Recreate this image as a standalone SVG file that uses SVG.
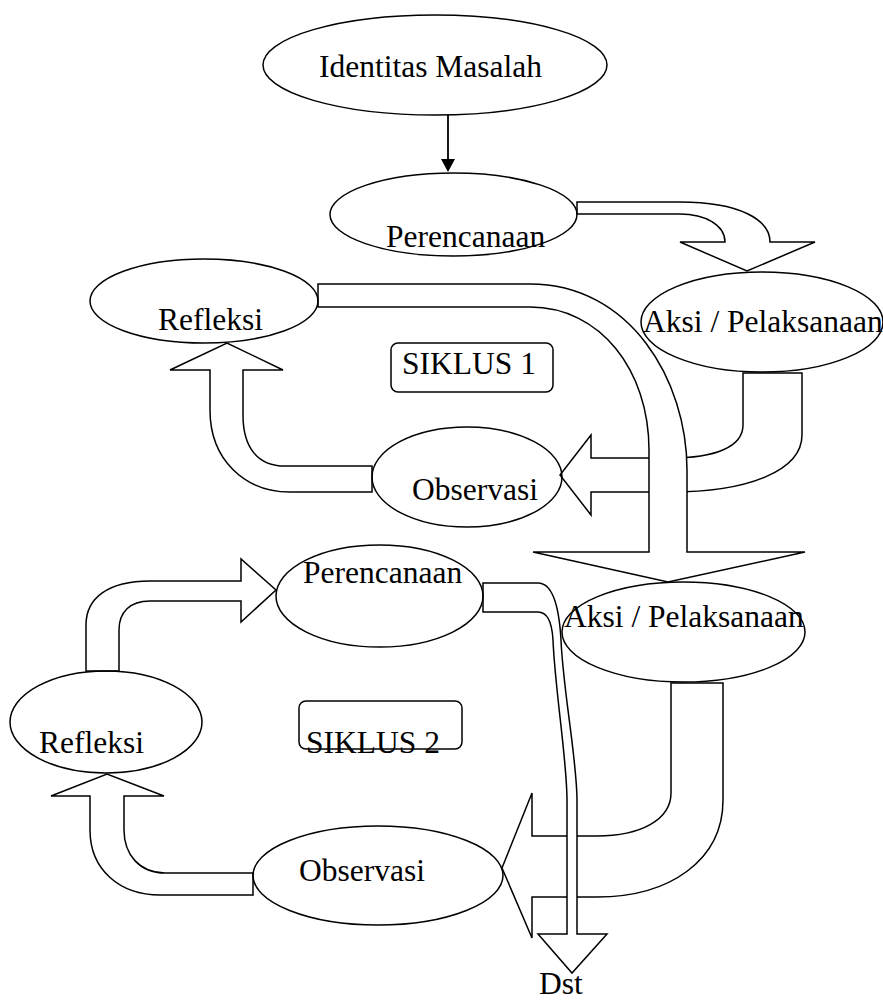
<svg xmlns="http://www.w3.org/2000/svg" width="883" height="1002" viewBox="0 0 883 1002">
<style>
.c{fill:#fff;stroke:#000;stroke-width:1.5;stroke-linejoin:miter}
.n{fill:none;stroke:#000;stroke-width:1.5}
.t{font-family:"Liberation Serif","Times New Roman",serif;font-size:31.5px;fill:#000}
.b{fill:none;stroke:#000;stroke-width:1.5}
</style>
<rect width="883" height="1002" fill="#fff"/>
<g id="connectors">
<line x1="448" y1="115" x2="448" y2="160" stroke="#000" stroke-width="1.8"/>
<polygon points="441,159 455,159 448,172" fill="#000"/>
<path class="c" d="M577,202 L680,202 C740,202 770,220 770,242 L815,242 L747,271 L680,242 L725,242 C725,225 705,214 680,214 L577,214 Z"/>
<path class="c" d="M743,373 L743,425 C743,447 715,458 670,458 L591,458 L591,435 L560,475 L591,515 L591,492 L670,492 C750,492 802,470 802,435 L802,373 Z"/>
<path class="c" d="M318,284 L530,284 C630,284 687,380 687,470 L687,552 L805,552 L668,582 L533,552 L649,552 L649,450 C649,370 600,307 530,307 L318,307 Z"/>
<path class="c" d="M372,466 L285,466 C258,466 243,448 243,415 L243,370 L283,370 L227,343 L170,370 L210,370 L210,410 C210,460 245,492 290,492 L372,492 Z"/>
<path class="c" d="M86,671 L86,625 C86,598 108,581 150,581 L241,581 L241,559 L276,590 L241,622 L241,601 L150,601 C130,601 119,612 119,630 L119,671 Z"/>
<path class="c" d="M671,683 L671,793 C671,820 640,836 597,836 L532,836 L532,793 L502,868 L532,938 L532,897 L597,897 C670,897 723,860 723,800 L723,683 Z"/>
<path class="c" d="M483,583 L538,583 C552,583 559,605 561,640 C563,690 577,760 577,800 L577,934 L607,934 L572,973 L538,934 L567,934 L567,800 C567,760 555,690 553,640 C552,622 547,612 538,612 L483,612 Z"/>
<path class="c" d="M253,873 L165,873 C140,873 124,855 124,830 L124,796 L164,796 L107,774 L51,796 L90,796 L90,830 C90,870 120,895 160,895 L253,895 Z"/>
</g>
<g id="identitas"><ellipse class="n" cx="435" cy="65" rx="172" ry="50"/><text class="t" x="319" y="77">Identitas Masalah</text></g>
<g id="perencanaan1"><ellipse class="n" cx="453.5" cy="214.5" rx="123.5" ry="41.5"/><text class="t" x="386" y="247">Perencanaan</text></g>
<g id="aksi1"><ellipse class="n" cx="762" cy="322" rx="121" ry="50"/><text class="t" x="643" y="332">Aksi / Pelaksanaan</text></g>
<g id="refleksi1"><ellipse class="n" cx="204" cy="301" rx="114" ry="42"/><text class="t" x="158" y="330">Refleksi</text></g>
<g id="siklus1"><rect class="b" x="391" y="343" width="162" height="49" rx="7"/><text class="t" x="402" y="374">SIKLUS 1</text></g>
<g id="observasi1"><ellipse class="n" cx="467" cy="477" rx="95" ry="50"/><text class="t" x="412" y="500">Observasi</text></g>
<g id="perencanaan2"><ellipse class="n" cx="379.5" cy="596" rx="103.5" ry="51"/><text class="t" x="303" y="583">Perencanaan</text></g>
<g id="aksi2"><ellipse class="n" cx="683.5" cy="632" rx="121.5" ry="50"/><text class="t" x="564" y="627">Aksi / Pelaksanaan</text></g>
<g id="refleksi2"><ellipse class="n" cx="106" cy="722" rx="96" ry="51"/><text class="t" x="39" y="753">Refleksi</text></g>
<g id="siklus2"><rect class="b" x="299" y="701" width="163" height="48" rx="7"/><text class="t" x="306" y="753">SIKLUS 2</text></g>
<g id="observasi2"><ellipse class="n" cx="378" cy="875.5" rx="125" ry="49.5"/><text class="t" x="299" y="881">Observasi</text></g>
<g id="dst"><text class="t" x="539" y="994">Dst</text></g>
</svg>
